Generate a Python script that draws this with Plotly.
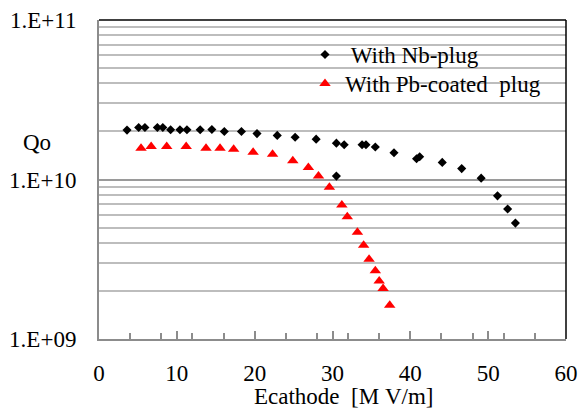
import plotly.graph_objects as go

nb_E = [3.6, 5.1, 5.9, 7.5, 8.2, 9.2, 10.4, 11.3, 13.0, 14.5, 16.1, 18.3, 20.3, 22.9, 25.2,
        27.9, 30.5, 31.5, 30.5, 33.8, 34.3, 35.5, 37.9, 40.8, 41.2, 44.1, 46.6, 49.1, 51.2, 52.5, 53.5]
nb_Q = [2.04e10, 2.12e10, 2.12e10, 2.12e10, 2.12e10, 2.05e10, 2.05e10, 2.05e10, 2.05e10, 2.06e10,
        2.0e10, 2.0e10, 1.94e10, 1.89e10, 1.84e10, 1.79e10, 1.69e10, 1.65e10, 1.05e10, 1.65e10,
        1.65e10, 1.60e10, 1.47e10, 1.35e10, 1.39e10, 1.28e10, 1.17e10, 1.02e10, 7.9e9, 6.53e9, 5.33e9]

pb_E = [5.4, 6.7, 8.7, 11.2, 13.75, 15.55, 17.3, 19.8, 22.3, 24.9, 26.9, 28.2, 29.6, 31.2, 31.9,
        33.2, 34.0, 34.7, 35.5, 36.0, 36.5, 37.35]
pb_Q = [1.57e10, 1.61e10, 1.61e10, 1.61e10, 1.57e10, 1.57e10, 1.55e10, 1.48e10, 1.44e10, 1.31e10,
        1.19e10, 1.05e10, 8.94e9, 6.92e9, 5.85e9, 4.67e9, 3.87e9, 3.16e9, 2.68e9, 2.31e9, 2.07e9, 1.63e9]

y_major = [1e9, 1e10, 1e11]
y_major_text = ["1.E+09", "1.E+10", "1.E+11"]
y_minor = [k * 1e9 for k in range(2, 10)] + [k * 1e10 for k in range(2, 10)]

FONT = "Liberation Serif"

# plot area in pixels
L, R, T, B = 99, 566, 20, 339
PW, PH = R - L, B - T


def px_x(p):
    return (p - L) / PW


def px_y(p):
    return (B - p) / PH


fig = go.Figure()
fig.add_trace(go.Scatter(x=nb_E, y=nb_Q, mode="markers", name="\u00a0With Nb-plug",
                         legend="legend",
                         marker=dict(symbol="diamond", size=7, color="black")))
fig.add_trace(go.Scatter(x=pb_E, y=pb_Q, mode="markers", name="With Pb-coated\u00a0 plug",
                         legend="legend2",
                         marker=dict(symbol="triangle-up", size=10, color="#ff0000")))

leg_common = dict(xanchor="left", yanchor="top", bgcolor="rgba(0,0,0,0)", borderwidth=0,
                  itemwidth=30, font=dict(family=FONT, size=23, color="black"))

fig.update_layout(
    width=581, height=408,
    margin=dict(l=L, r=581 - R, t=T, b=408 - B),
    paper_bgcolor="white", plot_bgcolor="white",
    font=dict(family=FONT, size=23, color="black"),
    showlegend=True,
    legend=dict(x=px_x(305), y=px_y(33), **leg_common),
    legend2=dict(x=px_x(305), y=px_y(62), **leg_common),
    xaxis=dict(range=[0, 60], dtick=10, tick0=0, showgrid=False, zeroline=False,
               automargin=False,
               showline=True, linecolor="#8c8c8c", linewidth=2,
               ticks="inside", ticklen=8, tickwidth=1.5, tickcolor="#8c8c8c",
               ticklabelstandoff=12,
               minor=dict(dtick=4, tick0=0, ticks="inside", ticklen=6, tickwidth=1.5,
                          tickcolor="#8c8c8c", showgrid=False)),
    yaxis=dict(type="log", range=[9, 11], tickmode="array", tickvals=y_major,
               ticktext=y_major_text, showgrid=True, gridcolor="#9a9a9a", gridwidth=1.5,
               automargin=False,
               zeroline=False, showline=True, linecolor="#8c8c8c", linewidth=2,
               ticks="", ticklabelstandoff=16,
               minor=dict(tickmode="array", tickvals=y_minor, showgrid=True,
                          gridcolor="#bdbdbd", gridwidth=1.5, ticks="")),
    shapes=[
        # white legend box (covers gridlines)
        dict(type="rect", xref="paper", yref="paper", layer="between",
             x0=px_x(313), x1=px_x(553), y0=px_y(97), y1=px_y(39),
             fillcolor="white", line=dict(width=0)),
        dict(type="line", xref="paper", yref="paper", x0=0, x1=1, y0=1, y1=1,
             line=dict(color="black", width=1.5)),
        dict(type="line", xref="paper", yref="paper", x0=1, x1=1, y0=0, y1=1,
             line=dict(color="black", width=1.5)),
    ],
    annotations=[
        dict(text="Qo", xref="paper", yref="paper", x=px_x(37), y=px_y(142),
             xanchor="center", yanchor="middle", showarrow=False,
             font=dict(family=FONT, size=23, color="black")),
        dict(text="Ecathode\u00a0 [M\u00a0V/m]", xref="paper", yref="paper",
             x=px_x(343), y=px_y(396),
             xanchor="center", yanchor="middle", showarrow=False,
             font=dict(family=FONT, size=23, color="black")),
    ],
)

fig.write_html("out.html", config={"displayModeBar": False},
               post_script="document.body.style.margin='0';document.body.style.overflow='hidden';")
